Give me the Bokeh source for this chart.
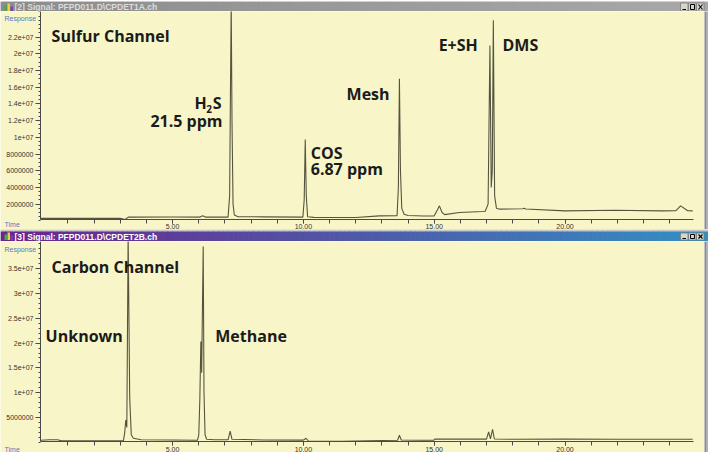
import numpy as np
from bokeh.plotting import figure
from bokeh.layouts import column, row
from bokeh.models import FixedTicker, Label, Range1d
from bokeh.core.properties import value
from bokeh.embed import file_html
from bokeh.resources import INLINE

# ---------------- data (time in minutes, response in millions of counts) ----------------
sulfur_time = [-0.05, 1.5, 3.0, 3.18, 3.24, 3.32, 3.45, 5.0, 6.05, 6.15, 6.25,
               7.12, 7.18, 7.21, 7.24, 7.27, 7.31, 7.36, 7.5, 8.5,
               9.98, 10.03, 10.07, 10.11, 10.16, 10.4, 12.0, 12.9,
               13.58, 13.63, 13.67, 13.71, 13.76, 13.85, 14.0, 14.6,
               15.0, 15.12, 15.2, 15.3, 15.4, 15.96, 16.85,
               16.95, 17.06, 17.13, 17.18, 17.22, 17.26, 17.31, 17.38, 17.5,
               18.38, 18.44, 18.5, 20.0, 21.9, 23.7, 24.24, 24.42, 24.69, 24.88]
sulfur_resp_m = [0.30, 0.30, 0.32, 0.17, 0.30, 0.47, 0.45, 0.46, 0.45, 0.60, 0.45,
                 0.45, 3.0, 15.0, 26.0, 12.0, 2.0, 0.7, 0.5, 0.48,
                 0.45, 2.5, 9.75, 3.0, 0.5, 0.42, 0.41, 0.6,
                 0.62, 4.0, 17.0, 6.0, 1.5, 0.8, 0.65, 0.58,
                 0.6, 1.3, 1.8, 1.0, 0.75, 1.0, 1.13,
                 1.15, 2.0, 21.0, 4.0, 6.0, 24.0, 3.0, 1.5, 1.4,
                 1.45, 1.5, 1.42, 1.2, 1.28, 1.2, 1.22, 1.8, 1.22, 1.2]

carbon_time = [-0.05, 0.3, 0.6, 0.75, 1.5, 3.12, 3.17, 3.21, 3.25, 3.30, 3.36, 3.42, 3.5, 3.8,
               5.0, 5.95, 6.0, 6.04, 6.08, 6.11, 6.14, 6.17, 6.2, 6.24, 6.3, 6.6,
               7.12, 7.2, 7.27, 8.5, 10.0, 10.1, 10.2, 11.5, 12.5, 13.6, 13.67, 13.74,
               14.5, 14.98, 15.02, 16.0, 17.0, 17.08, 17.15, 17.23, 17.3, 18.0, 20.0, 22.0, 24.88]
carbon_resp_m = [0.4, 0.5, 0.5, 0.3, 0.3, 0.3, 2.0, 4.5, 3.0, 42.0, 9.0, 1.5, 0.8, 0.5,
                 0.45, 0.4, 1.5, 8.5, 20.3, 14.0, 27.0, 39.5, 10.0, 1.5, 0.6, 0.5,
                 0.5, 2.25, 0.6, 0.45, 0.43, 0.8, 0.2, 0.18, 0.3, 0.4, 1.4, 0.45,
                 0.4, 0.4, 0.62, 0.62, 0.62, 2.1, 0.7, 2.6, 0.65, 0.6, 0.62, 0.6, 0.6]

x_ticks = [5, 10, 15, 20]
x_tick_labels = ["5.00", "10.00", "15.00", "20.00"]

sulfur_y_ticks = [2000000, 4000000, 6000000, 8000000, 10000000, 12000000,
                  14000000, 16000000, 18000000, 20000000, 22000000]
sulfur_y_labels = ["2000000", "4000000", "6000000", "8000000", "1e+07", "1.2e+07",
                   "1.4e+07", "1.6e+07", "1.8e+07", "2e+07", "2.2e+07"]

carbon_y_ticks = [5000000, 10000000, 15000000, 20000000, 25000000, 30000000, 35000000]
carbon_y_labels = ["5000000", "1e+07", "1.5e+07", "2e+07", "2.5e+07", "3e+07", "3.5e+07"]

sulfur_title = "[2] Signal: PFPD011.D\\CPDET1A.ch"
carbon_title = "[3] Signal: PFPD011.D\\CPDET2B.ch"

# ---------------- styling / geometry ----------------
BG = "#f8f6c8"
TRACE = "#55553f"
AXIS = "#4a4a4a"
TICKTXT = "#333333"
BLUE = "#5a78c0"
LABEL_FONT = "Open Sans"
TICK_FONT = "Liberation Sans"
W = 708           # window width (page x 8 .. 716)
PW = 704          # plot figure width (page x 8 .. 712)
T0 = -0.05        # time at the y axis
T1 = 24.9         # time at the right end of the x axis
PX_PER_MIN = 26.16
AXIS_LEFT = 40    # y axis position inside the figure (px)


def big_label(p, x, y, text, align="left", size="16px"):
    p.add_layout(Label(x=x, y=y, text=text, text_font=LABEL_FONT, text_font_style="bold",
                       text_font_size=size, text_color="#1b1b1b", text_align=align,
                       text_baseline="alphabetic"))


def corner_label(p, x, y, text):
    p.add_layout(Label(x=x, y=y, text=text, text_font=TICK_FONT, text_font_size="7px",
                       text_color=BLUE, text_baseline="middle"))


def make_bar(title, c0, c1, text_color, h, sep):
    b = figure(width=W, height=h, x_range=Range1d(0, W), y_range=Range1d(0, h),
               x_axis_type=None, y_axis_type=None, toolbar_location=None,
               output_backend="svg", min_border=0)
    b.outline_line_color = None
    b.background_fill_color = "#c8c8c8"
    b.border_fill_color = "#c8c8c8"
    n = 140
    edges = np.linspace(0, W, n + 1)
    cols = []
    for i in range(n):
        f = i / (n - 1)
        r, g, bl = [int(round(a + (c - a) * f)) for a, c in zip(c0, c1)]
        cols.append("#%02x%02x%02x" % (r, g, bl))
    top = h - sep
    b.quad(left=edges[:-1], right=edges[1:] + 0.6, bottom=0, top=top,
           fill_color=cols, line_color=None)
    b.quad(left=[4, 7, 10], right=[6.5, 9.5, 12.5], bottom=[1.5, 1.5, 1.5], top=[7, 9, 6],
           fill_color=["#4aa84a", "#e8d040", "#8040a0"], line_color=None)
    b.text(x=[14], y=[top / 2], text=[title], text_font=value(TICK_FONT),
           text_font_style="bold", text_font_size="8.5px", text_color=text_color,
           text_baseline="middle")
    bx = [680, 688, 696]
    b.quad(left=bx, right=[x + 7.5 for x in bx], bottom=1.5, top=top - 1.5,
           fill_color="#d8d5cc", line_color="#7a7a7a", line_width=0.8)
    b.segment(x0=[682], y0=[3], x1=[685.5], y1=[3], line_color="black", line_width=1.2)
    b.quad(left=[690], right=[694], bottom=[3], top=[top - 3], fill_color=None,
           line_color="black", line_width=1)
    b.segment(x0=[698, 698], y0=[3, top - 3], x1=[702, 702], y1=[top - 3, 3],
              line_color="black", line_width=1.1)
    return b


def make_plot(h, axis_px_from_bottom, top_px, y_axis_val, y_top_val,
              ticks, labels, minor_step, t, r_m):
    # frame covers the whole figure; axes sit at fixed locations inside it
    ppu = (h - axis_px_from_bottom - top_px) / (y_top_val - y_axis_val)   # px per unit
    y_lo = y_axis_val - axis_px_from_bottom / ppu
    y_hi = y_top_val + top_px / ppu
    x_lo = T0 - AXIS_LEFT / PX_PER_MIN
    x_hi = T0 + (PW - AXIS_LEFT) / PX_PER_MIN
    p = figure(width=PW, height=h, x_range=Range1d(x_lo, x_hi), y_range=Range1d(y_lo, y_hi),
               output_backend="svg", toolbar_location=None, min_border=0)
    p.background_fill_color = BG
    p.border_fill_color = BG
    p.outline_line_color = None
    p.grid.visible = False
    p.line(t, [v * 1e6 for v in r_m], line_color=TRACE, line_width=1.1)

    xa = p.xaxis[0]
    xa.ticker = FixedTicker(ticks=x_ticks, minor_ticks=list(range(1, 25)))
    xa.major_label_overrides = dict(zip(x_ticks, x_tick_labels))
    xa.fixed_location = y_axis_val
    xa.bounds = (T0, T1)
    ya = p.yaxis[0]
    ya.ticker = FixedTicker(ticks=ticks, minor_ticks=list(np.arange(0, y_hi, minor_step)))
    ya.major_label_overrides = dict(zip(ticks, labels))
    ya.fixed_location = T0
    ya.bounds = (y_axis_val, y_hi)
    for ax in (xa, ya):
        ax.axis_line_color = AXIS
        ax.major_tick_line_color = AXIS
        ax.minor_tick_line_color = AXIS
        ax.major_tick_in = 0
        ax.minor_tick_in = 0
        ax.major_label_text_font = TICK_FONT
        ax.major_label_text_font_size = "7px"
        ax.major_label_text_color = TICKTXT
    xa.major_tick_out = 4
    xa.minor_tick_out = 4
    xa.major_label_standoff = 1
    ya.major_tick_out = 5
    ya.minor_tick_out = 2
    ya.major_label_standoff = 2
    return p, ppu


def strip(h):
    s = figure(width=W - PW, height=h, x_range=Range1d(0, 1), y_range=Range1d(0, 1),
               x_axis_type=None, y_axis_type=None, toolbar_location=None,
               output_backend="svg", min_border=0)
    s.outline_line_color = None
    s.background_fill_color = "#b4b4b4"
    s.border_fill_color = "#b4b4b4"
    s.quad(left=[0], right=[0.4], bottom=[0], top=[1], fill_color="#8a8a8a", line_color=None)
    return s


TX_LEFT = T0 - 36 / PX_PER_MIN    # page x = 12

# ---------------- top window: sulfur ----------------
bar1 = make_bar(sulfur_title, (140, 140, 140), (168, 168, 168), "#dcdcdc", 11, 0)
H1 = 218
p1, ppu1 = make_plot(H1, 10.3, 3, 0.2e6, 24.7e6, sulfur_y_ticks, sulfur_y_labels, 0.5e6,
                     sulfur_time, sulfur_resp_m)
big_label(p1, 0.375, 22.08e6, "Sulfur Channel")
big_label(p1, 5.84, 14.06e6, "H")
big_label(p1, 6.29, 13.35e6, "2", size="10px")
big_label(p1, 6.53, 14.06e6, "S")
big_label(p1, 6.91, 11.9e6, "21.5 ppm", align="right")
big_label(p1, 10.28, 8.07e6, "COS")
big_label(p1, 10.28, 6.16e6, "6.87 ppm")
big_label(p1, 11.65, 15.14e6, "Mesh")
big_label(p1, 15.17, 21.0e6, "E+SH")
big_label(p1, 17.61, 21.0e6, "DMS")
corner_label(p1, TX_LEFT, 24.2e6, "Response")
corner_label(p1, TX_LEFT, 0.2e6 - 5.5 / ppu1, "Time")

# ---------------- bottom window: carbon ----------------
bar2 = make_bar(carbon_title, (106, 36, 140), (52, 142, 196), "#ffffff", 12, 2)
H2 = 211
p2, ppu2 = make_plot(H2, 11, 2, 0.15e6, 40.1e6, carbon_y_ticks, carbon_y_labels, 1e6,
                     carbon_time, carbon_resp_m)
big_label(p2, 0.375, 35.4e6, "Carbon Channel")
big_label(p2, 0.145, 21.47e6, "Unknown")
big_label(p2, 6.63, 21.47e6, "Methane")
corner_label(p2, TX_LEFT, 38.9e6, "Response")
corner_label(p2, TX_LEFT, 0.15e6 - 8 / ppu2, "Time")

layout = column(bar1, row(p1, strip(H1)), bar2, row(p2, strip(H2)))

open("out.html", "w").write(file_html(layout, INLINE))
